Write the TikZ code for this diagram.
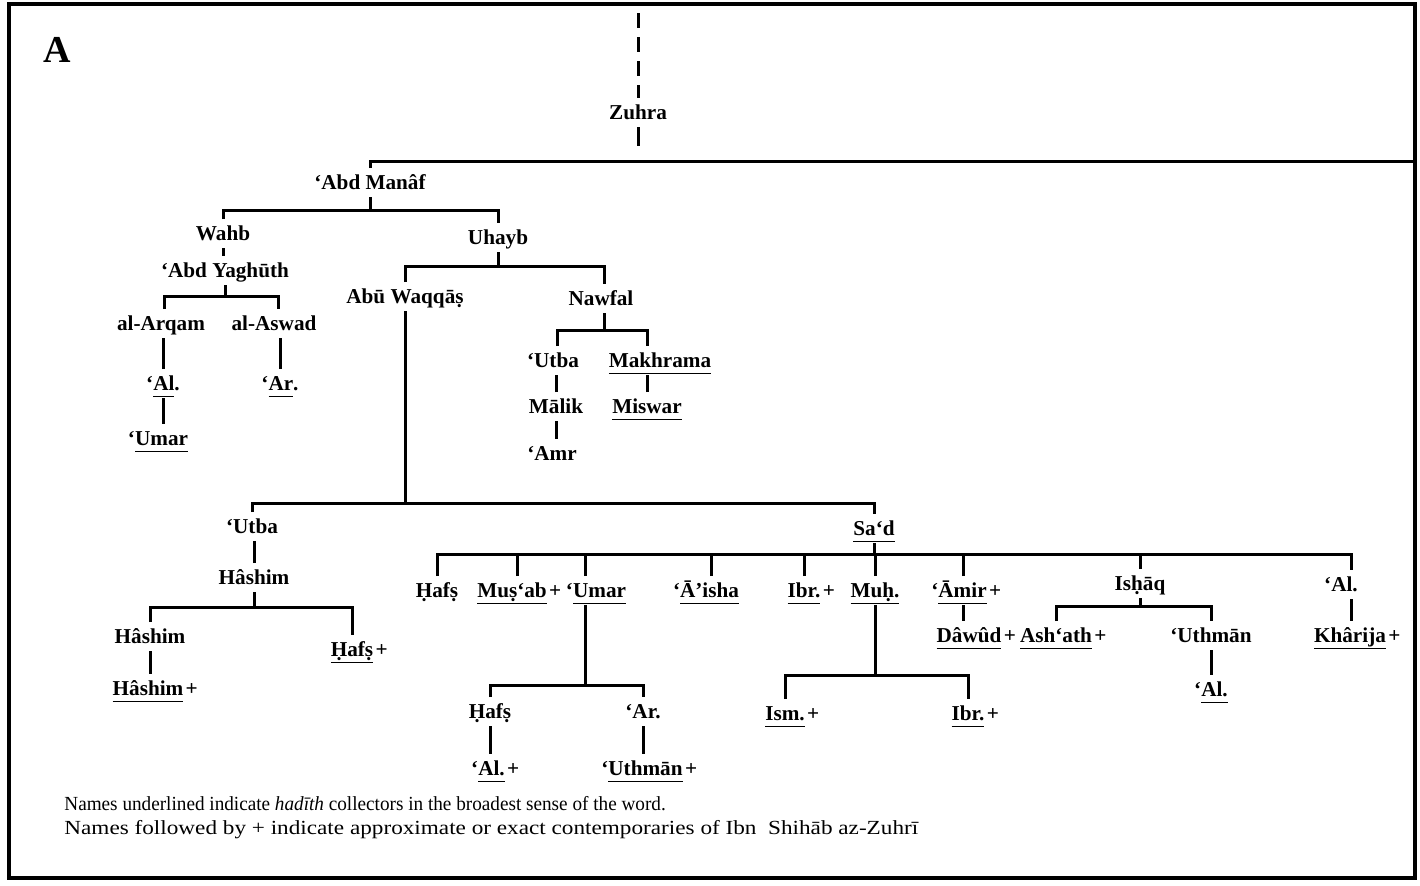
\documentclass[tikz,border=0pt]{standalone}
\usepackage{fontspec}
\setmainfont{Liberation Serif}
\newcommand{\ulx}[1]{\setbox0\hbox{#1}\rlap{\rule[-3.6pt]{\wd0}{0.8pt}}\box0}
\newcommand{\plus}{\rlap{\kern1.2pt+}}
\begin{document}
\begin{tikzpicture}[x=0.5pt,y=-0.5pt,
  ln/.style={line width=1.5pt},
  lbl/.style={anchor=base, inner sep=0pt, font=\bfseries\fontsize{10.6}{12}\selectfont,
     text height=8pt, text depth=1.5pt, outer ysep=2.5pt},
  legend/.style={anchor=base west, inner sep=0pt, font=\fontsize{10}{12}\selectfont}]
\useasboundingbox (0,0) rectangle (1420,885);
\draw[line width=1.6pt] (9,4) rectangle (1415,878);
\node[anchor=center, inner sep=0pt, font=\bfseries\fontsize{19}{22}\selectfont] (A) at (57,50) {A};
\coordinate (ztop) at (638,13);
\coordinate (rb) at (1415,161);
% nodes
\node[lbl] (zuhra) at (638,119) {Zuhra};
\node[lbl] (abd) at (370,189) {‘Abd Manâf};
\node[lbl] (wahb) at (223,240) {Wahb};
\node[lbl] (uhayb) at (498,244) {Uhayb};
\node[lbl] (yagh) at (225,277) {‘Abd Yaghūth};
\node[lbl] (arqam) at (161,330) {al-Arqam};
\node[lbl] (aswad) at (274,330) {al-Aswad};
\node[lbl] (al1) at (163,390) {‘\ulx{Al}.};
\node[lbl] (ar1) at (280,390) {‘\ulx{Ar}.};
\node[lbl] (umar1) at (158,445) {‘\ulx{Umar}};
\node[lbl] (waqqas) at (405,303) {Abū Waqqāṣ};
\node[lbl] (nawfal) at (601,305) {Nawfal};
\node[lbl] (utba1) at (553,367) {‘Utba};
\node[lbl] (makh) at (660,367) {\ulx{Makhrama}};
\node[lbl] (malik) at (556,413) {Mālik};
\node[lbl] (miswar) at (647,413) {\ulx{Miswar}};
\node[lbl] (amr) at (552,460) {‘Amr};
\node[lbl] (utba2) at (252,533) {‘Utba};
\node[lbl] (sad) at (874,535) {\ulx{Sa‘d}};
\node[lbl] (hashim1) at (254,584) {Hâshim};
\node[lbl] (hashim2) at (150,643) {Hâshim};
\node[lbl] (hafs1) at (352,656) {\ulx{Ḥafṣ}\plus};
\node[lbl] (hashim3) at (148,695) {\ulx{Hâshim}\plus};
\node[lbl] (hafs2) at (437,597) {Ḥafṣ};
\node[lbl] (musab) at (512,597) {\ulx{Muṣ‘ab}\plus};
\node[lbl] (umar2) at (596,597) {‘\ulx{Umar}};
\node[lbl] (aisha) at (706,597) {‘\ulx{Ā’isha}};
\node[lbl] (ibr1) at (804,597) {\ulx{Ibr.}\plus};
\node[lbl] (muh) at (875,597) {\ulx{Muḥ.}};
\node[lbl] (amir) at (959,597) {‘\ulx{Āmir}\plus};
\node[lbl] (ishaq) at (1140,590) {Isḥāq};
\node[lbl] (al2) at (1341,591) {‘Al.};
\node[lbl] (hafs3) at (490,718) {Ḥafṣ};
\node[lbl] (ar2) at (643,718) {‘Ar.};
\node[lbl] (al3) at (488,775) {‘\ulx{Al.}\plus};
\node[lbl] (uthman1) at (642,775) {‘\ulx{Uthmān}\plus};
\node[lbl] (ism) at (785,720) {\ulx{Ism.}\plus};
\node[lbl] (ibr2) at (968,720) {\ulx{Ibr.}\plus};
\node[lbl] (dawud) at (969,642) {\ulx{Dâwûd}\plus};
\node[lbl] (ashath) at (1056,642) {\ulx{Ash‘ath}\plus};
\node[lbl] (uthman2) at (1211,642) {‘Uthmān};
\node[lbl] (al4) at (1211,696) {‘\ulx{Al.}};
\node[lbl] (kharija) at (1350,642) {\ulx{Khârija}\plus};
% shifted attachment points
\coordinate (musabN) at ([xshift=2.5pt]musab.north);
\coordinate (umar2N) at ([xshift=-5.5pt]umar2.north);
\coordinate (umar2S) at ([xshift=-5.5pt]umar2.south);
\coordinate (aishaN) at ([xshift=2.5pt]aisha.north);
\coordinate (amirN) at ([xshift=2pt]amir.north);
\coordinate (amirS) at ([xshift=2pt]amir.south);
\coordinate (al2N) at ([xshift=5pt]al2.north);
\coordinate (al2S) at ([xshift=5pt]al2.south);
\coordinate (arqamN) at ([xshift=1.5pt]arqam.north);
\coordinate (aswadN) at ([xshift=2pt]aswad.north);
\coordinate (utba1N) at ([xshift=2pt]utba1.north);
\coordinate (nawfalN) at ([xshift=1.5pt]nawfal.north);
\coordinate (nawfalS) at ([xshift=1.5pt]nawfal.south);
% legend
\node[legend] (leg1) at (64,810) {\scalebox{0.96}[1]{Names underlined indicate \textit{hadīth} collectors in the broadest sense of the word.}};
\node[legend] (leg2) at (64,834) {\scalebox{1.16}[1]{Names followed by + indicate approximate or exact contemporaries of Ibn\ \ Shihāb az-Zuhrī}};
% connectors
\draw[ln, dash pattern=on 7.5pt off 4.5pt] (ztop) -- (zuhra.north);
\draw[ln] (zuhra.south) -- (zuhra.south |- 0,146);
\draw[ln] (abd.north) -- (abd.north |- rb) -- (rb);
% Abd Manaf
\draw[ln] (abd.south) -- (abd.south |- 0,210);
\draw[ln] (wahb.north) -- (wahb.north |- 0,210) -- (uhayb.north |- 0,210) -- (uhayb.north);
\draw[ln] (wahb.south) -- (wahb.south |- yagh.north);
% Abd Yaghuth
\draw[ln] (yagh.south) -- (yagh.south |- 0,296);
\draw[ln] (arqamN) -- (arqamN |- 0,296) -- (aswadN |- 0,296) -- (aswadN);
\draw[ln] (al1.north) -- (al1.north |- arqam.south);
\draw[ln] (al1.south) -- (al1.south |- umar1.north);
\draw[ln] (ar1.north) -- (ar1.north |- aswad.south);
% Uhayb
\draw[ln] (uhayb.south) -- (uhayb.south |- 0,266);
\draw[ln] (waqqas.north) -- (waqqas.north |- 0,266) -- (nawfalN |- 0,266) -- (nawfalN);
% Nawfal
\draw[ln] (nawfalS) -- (nawfalS |- 0,330);
\draw[ln] (utba1N) -- (utba1N |- 0,330) -- (miswar.north |- 0,330) -- (miswar.north |- makh.north);
\draw[ln] (malik.north) -- (malik.north |- utba1.south);
\draw[ln] (malik.south) -- (malik.south |- amr.north);
\draw[ln] (miswar.north) -- (miswar.north |- makh.south);
% Abu Waqqas
\draw[ln] (waqqas.south) -- (waqqas.south |- 0,503);
\draw[ln] (utba2.north) -- (utba2.north |- 0,503) -- (sad.north |- 0,503) -- (sad.north);
% Utba
\draw[ln] (hashim1.north) -- (hashim1.north |- utba2.south);
\draw[ln] (hashim1.south) -- (hashim1.south |- 0,607);
\draw[ln] (hashim2.north) -- (hashim2.north |- 0,607) -- (hafs1.north |- 0,607) -- (hafs1.north);
\draw[ln] (hashim2.south) -- (hashim2.south |- hashim3.north);
% Sa'd
\draw[ln] (sad.south) -- (sad.south |- 0,554);
\draw[ln] (hafs2.north) -- (hafs2.north |- 0,554) -- (al2N |- 0,554) -- (al2N);
\draw[ln] (musabN) -- (musabN |- 0,554);
\draw[ln] (umar2N) -- (umar2N |- 0,554);
\draw[ln] (aishaN) -- (aishaN |- 0,554);
\draw[ln] (ibr1.north) -- (ibr1.north |- 0,554);
\draw[ln] (muh.north) -- (muh.north |- 0,554);
\draw[ln] (amirN) -- (amirN |- 0,554);
\draw[ln] (ishaq.north) -- (ishaq.north |- 0,554);
% 'Umar
\draw[ln] (umar2S) -- (umar2S |- 0,685);
\draw[ln] (hafs3.north) -- (hafs3.north |- 0,685) -- (ar2.north |- 0,685) -- (ar2.north);
\draw[ln] (hafs3.south) -- (hafs3.south |- al3.north);
\draw[ln] (ar2.south) -- (ar2.south |- uthman1.north);
% Muh.
\draw[ln] (muh.south) -- (muh.south |- 0,675);
\draw[ln] (ism.north) -- (ism.north |- 0,675) -- (ibr2.north |- 0,675) -- (ibr2.north);
% 'Amir
\draw[ln] (amirS) -- (amirS |- dawud.north);
% Ishaq
\draw[ln] (ishaq.south) -- (ishaq.south |- 0,606);
\draw[ln] (ashath.north) -- (ashath.north |- 0,606) -- (uthman2.north |- 0,606) -- (uthman2.north);
\draw[ln] (uthman2.south) -- (uthman2.south |- al4.north);
% 'Al.
\draw[ln] (al2S) -- (al2S |- kharija.north);
\end{tikzpicture}
\end{document}
